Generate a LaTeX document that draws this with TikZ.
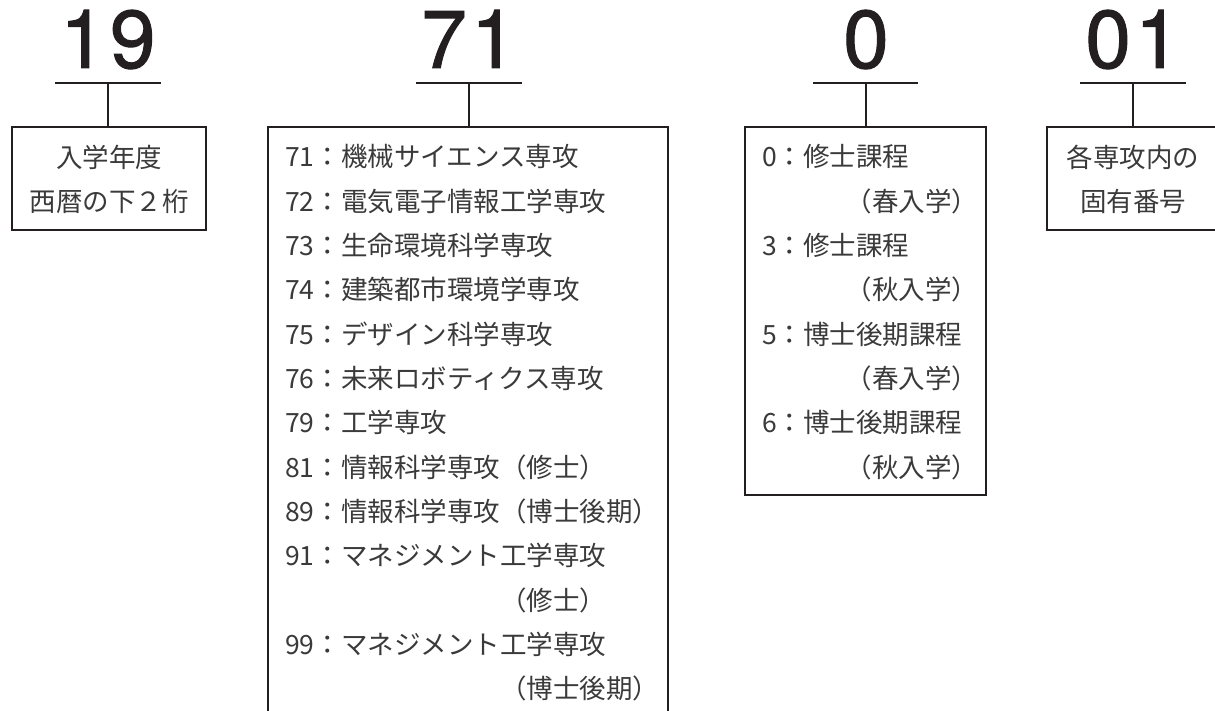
\documentclass[tikz,border=0pt]{standalone}
\usepackage{fontspec}
\newfontfamily\cjk{Noto Sans CJK JP}
\newfontfamily\bignum[FakeBold=1.2,LetterSpace=5]{TeX Gyre Heros}
\definecolor{ink}{HTML}{231F20}
\definecolor{txt}{HTML}{3A3A3A}
\begin{document}
\begin{tikzpicture}[x=1pt,y=-1pt,
  bignumber/.style={font=\bignum\fontsize{82}{82}\selectfont, text=ink, anchor=base, inner sep=0pt},
  item/.style={font=\cjk\fontsize{26.5}{30}\selectfont, text=txt, anchor=base west, inner sep=0pt},
  label/.style={font=\cjk\fontsize{26.5}{30}\selectfont, text=txt, anchor=base, inner sep=0pt},
  frame/.style={draw=ink, line width=2.2pt, rectangle, inner sep=0pt},
  bar/.style={draw=ink, line width=2.7pt},
  stem/.style={draw=ink, line width=2pt}]
\useasboundingbox (0,0) rectangle (1215,711);
\clip (0,0) rectangle (1215,711);

% ---- big numbers
\node[bignumber] (n19) at (108,68) {19};
\node[bignumber] (n71) at (469,68) {71};
\node[bignumber] (n0)  at (866,68) {0};
\node[bignumber] (n01) at (1133,68) {01};

% ---- underlines
\coordinate (u19a) at (55,83);  \coordinate (u19b) at (161,83);
\coordinate (u71a) at (416,83); \coordinate (u71b) at (522,83);
\coordinate (u0a)  at (813,83); \coordinate (u0b)  at (918,83);
\coordinate (u01a) at (1080,83);\coordinate (u01b) at (1186,83);
\draw[bar] (u19a) -- (u19b);
\draw[bar] (u71a) -- (u71b);
\draw[bar] (u0a) -- (u0b);
\draw[bar] (u01a) -- (u01b);

% ---- boxes
\node[frame, minimum width=194pt, minimum height=103pt] (b19) at (109,178.5) {};
\node[frame, minimum width=400pt, minimum height=653pt] (b71) at (468,453.5) {};
\node[frame, minimum width=241pt, minimum height=368pt] (b0)  at (865.5,311) {};
\node[frame, minimum width=172pt, minimum height=103pt] (b01) at (1133,178.5) {};

% ---- stems
\coordinate (s19) at (108,83);
\coordinate (s71) at (469,83);
\coordinate (s0)  at (866,83);
\coordinate (s01) at (1133,83);
\draw[stem] (s19) -- (s19 |- b19.north);
\draw[stem] (s71) -- (s71 |- b71.north);
\draw[stem] (s0)  -- (s0 |- b0.north);
\draw[stem] (s01) -- (s01 |- b01.north);

% ---- box 19
\node[label] (t19a) at (109,168) {入学年度};
\node[label] (t19b) at (109,212) {西暦の下２桁};

% ---- box 71
\node[item] (m1)  at (285,167)   {71：機械サイエンス専攻};
\node[item] (m2)  at (285,211.3) {72：電気電子情報工学専攻};
\node[item] (m3)  at (285,255.6) {73：生命環境科学専攻};
\node[item] (m4)  at (285,299.9) {74：建築都市環境学専攻};
\node[item] (m5)  at (285,344.2) {75：デザイン科学専攻};
\node[item] (m6)  at (285,388.5) {76：未来ロボティクス専攻};
\node[item] (m7)  at (285,432.8) {79：工学専攻};
\node[item] (m8)  at (285,477.1) {81：情報科学専攻（修士）};
\node[item] (m9)  at (285,521.4) {89：情報科学専攻（博士後期）};
\node[item] (m10) at (285,565.7) {91：マネジメント工学専攻};
\node[item] (m11) at (285,610.0) {\hphantom{00：情報科学専攻}（修士）};
\node[item] (m12) at (285,654.3) {99：マネジメント工学専攻};
\node[item] (m13) at (285,698.6) {\hphantom{00：情報科学専攻}（博士後期）};

% ---- box 0
\node[item] (k1) at (762,167)   {0：修士課程};
\node[item] (k2) at (762,211.3) {\hspace*{3.15em}（春入学）};
\node[item] (k3) at (762,255.6) {3：修士課程};
\node[item] (k4) at (762,299.9) {\hspace*{3.15em}（秋入学）};
\node[item] (k5) at (762,344.2) {5：博士後期課程};
\node[item] (k6) at (762,388.5) {\hspace*{3.15em}（春入学）};
\node[item] (k7) at (762,432.8) {6：博士後期課程};
\node[item] (k8) at (762,477.1) {\hspace*{3.15em}（秋入学）};

% ---- box 01
\node[label] (t01a) at (1133,167.5) {各専攻内の};
\node[label] (t01b) at (1133,212)   {固有番号};
\end{tikzpicture}
\end{document}
